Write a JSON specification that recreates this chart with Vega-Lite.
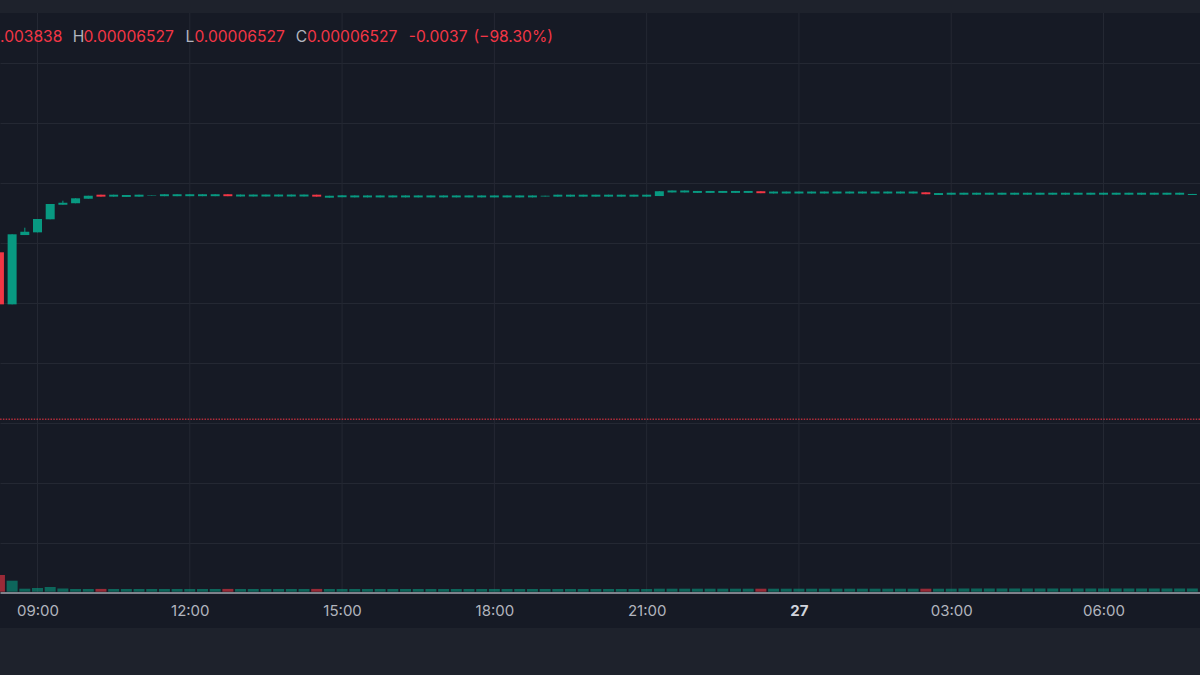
{
  "$schema": "https://vega.github.io/schema/vega-lite/v6.json",
  "width": 1200,
  "height": 615,
  "autosize": {"type": "none"},
  "padding": {"top": 13, "bottom": 47, "left": 0, "right": 0},
  "background": "#1e222c",
  "config": {"view": {"fill": "#161a25", "stroke": null}, "text": {"font": "Inter"}, "scale": {"continuousPadding": 0}},
  "datasets": {
    "candles": [
      {"t":"2024-06-26T08:15","o":0.00006138,"h":0.00006138,"l":0.00005665,"c":0.00005791,"v":16700},
      {"t":"2024-06-26T08:30","o":0.00005791,"h":0.00006258,"l":0.00005791,"c":0.00006258,"v":11000},
      {"t":"2024-06-26T08:45","o":0.00006253,"h":0.00006302,"l":0.00006253,"c":0.00006275,"v":3000},
      {"t":"2024-06-26T09:00","o":0.00006271,"h":0.00006360,"l":0.00006271,"c":0.00006360,"v":3700},
      {"t":"2024-06-26T09:15","o":0.00006358,"h":0.00006460,"l":0.00006358,"c":0.00006460,"v":4700},
      {"t":"2024-06-26T09:30","o":0.00006455,"h":0.00006482,"l":0.00006455,"c":0.00006469,"v":3300},
      {"t":"2024-06-26T09:45","o":0.00006465,"h":0.00006498,"l":0.00006465,"c":0.00006498,"v":2700},
      {"t":"2024-06-26T10:00","o":0.00006495,"h":0.00006515,"l":0.00006495,"c":0.00006515,"v":2700},
      {"t":"2024-06-26T10:15","o":0.00006522,"h":0.00006522,"l":0.00006509,"c":0.00006509,"v":2800},
      {"t":"2024-06-26T10:30","o":0.00006509,"h":0.00006522,"l":0.00006509,"c":0.00006522,"v":2700},
      {"t":"2024-06-26T10:45","o":0.00006507,"h":0.00006520,"l":0.00006507,"c":0.00006520,"v":2700},
      {"t":"2024-06-26T11:00","o":0.00006509,"h":0.00006522,"l":0.00006509,"c":0.00006522,"v":2700},
      {"t":"2024-06-26T11:15","o":0.00006514,"h":0.00006517,"l":0.00006514,"c":0.00006517,"v":2700},
      {"t":"2024-06-26T11:30","o":0.00006512,"h":0.00006525,"l":0.00006512,"c":0.00006525,"v":2700},
      {"t":"2024-06-26T11:45","o":0.00006512,"h":0.00006525,"l":0.00006512,"c":0.00006525,"v":2700},
      {"t":"2024-06-26T12:00","o":0.00006512,"h":0.00006525,"l":0.00006512,"c":0.00006525,"v":2700},
      {"t":"2024-06-26T12:15","o":0.00006512,"h":0.00006525,"l":0.00006512,"c":0.00006525,"v":2700},
      {"t":"2024-06-26T12:30","o":0.00006512,"h":0.00006525,"l":0.00006512,"c":0.00006525,"v":2700},
      {"t":"2024-06-26T12:45","o":0.00006525,"h":0.00006525,"l":0.00006512,"c":0.00006512,"v":2800},
      {"t":"2024-06-26T13:00","o":0.00006510,"h":0.00006523,"l":0.00006510,"c":0.00006523,"v":2700},
      {"t":"2024-06-26T13:15","o":0.00006510,"h":0.00006523,"l":0.00006510,"c":0.00006523,"v":2700},
      {"t":"2024-06-26T13:30","o":0.00006510,"h":0.00006523,"l":0.00006510,"c":0.00006523,"v":2700},
      {"t":"2024-06-26T13:45","o":0.00006510,"h":0.00006523,"l":0.00006510,"c":0.00006523,"v":2700},
      {"t":"2024-06-26T14:00","o":0.00006510,"h":0.00006523,"l":0.00006510,"c":0.00006523,"v":2700},
      {"t":"2024-06-26T14:15","o":0.00006510,"h":0.00006523,"l":0.00006510,"c":0.00006523,"v":2700},
      {"t":"2024-06-26T14:30","o":0.00006522,"h":0.00006522,"l":0.00006509,"c":0.00006509,"v":2800},
      {"t":"2024-06-26T14:45","o":0.00006502,"h":0.00006515,"l":0.00006502,"c":0.00006515,"v":2700},
      {"t":"2024-06-26T15:00","o":0.00006505,"h":0.00006518,"l":0.00006505,"c":0.00006518,"v":2700},
      {"t":"2024-06-26T15:15","o":0.00006504,"h":0.00006517,"l":0.00006504,"c":0.00006517,"v":2700},
      {"t":"2024-06-26T15:30","o":0.00006504,"h":0.00006517,"l":0.00006504,"c":0.00006517,"v":2700},
      {"t":"2024-06-26T15:45","o":0.00006504,"h":0.00006517,"l":0.00006504,"c":0.00006517,"v":2700},
      {"t":"2024-06-26T16:00","o":0.00006504,"h":0.00006517,"l":0.00006504,"c":0.00006517,"v":2700},
      {"t":"2024-06-26T16:15","o":0.00006504,"h":0.00006517,"l":0.00006504,"c":0.00006517,"v":2700},
      {"t":"2024-06-26T16:30","o":0.00006504,"h":0.00006517,"l":0.00006504,"c":0.00006517,"v":2700},
      {"t":"2024-06-26T16:45","o":0.00006504,"h":0.00006517,"l":0.00006504,"c":0.00006517,"v":2700},
      {"t":"2024-06-26T17:00","o":0.00006504,"h":0.00006517,"l":0.00006504,"c":0.00006517,"v":2700},
      {"t":"2024-06-26T17:15","o":0.00006504,"h":0.00006517,"l":0.00006504,"c":0.00006517,"v":2700},
      {"t":"2024-06-26T17:30","o":0.00006504,"h":0.00006517,"l":0.00006504,"c":0.00006517,"v":2700},
      {"t":"2024-06-26T17:45","o":0.00006504,"h":0.00006517,"l":0.00006504,"c":0.00006517,"v":2700},
      {"t":"2024-06-26T18:00","o":0.00006504,"h":0.00006517,"l":0.00006504,"c":0.00006517,"v":2700},
      {"t":"2024-06-26T18:15","o":0.00006504,"h":0.00006517,"l":0.00006504,"c":0.00006517,"v":2700},
      {"t":"2024-06-26T18:30","o":0.00006504,"h":0.00006517,"l":0.00006504,"c":0.00006517,"v":2700},
      {"t":"2024-06-26T18:45","o":0.00006504,"h":0.00006517,"l":0.00006504,"c":0.00006517,"v":2700},
      {"t":"2024-06-26T19:00","o":0.00006510,"h":0.00006515,"l":0.00006510,"c":0.00006515,"v":2700},
      {"t":"2024-06-26T19:15","o":0.00006509,"h":0.00006522,"l":0.00006509,"c":0.00006522,"v":2700},
      {"t":"2024-06-26T19:30","o":0.00006509,"h":0.00006522,"l":0.00006509,"c":0.00006522,"v":2700},
      {"t":"2024-06-26T19:45","o":0.00006509,"h":0.00006522,"l":0.00006509,"c":0.00006522,"v":2700},
      {"t":"2024-06-26T20:00","o":0.00006509,"h":0.00006522,"l":0.00006509,"c":0.00006522,"v":2700},
      {"t":"2024-06-26T20:15","o":0.00006509,"h":0.00006522,"l":0.00006509,"c":0.00006522,"v":2700},
      {"t":"2024-06-26T20:30","o":0.00006509,"h":0.00006522,"l":0.00006509,"c":0.00006522,"v":2700},
      {"t":"2024-06-26T20:45","o":0.00006509,"h":0.00006522,"l":0.00006509,"c":0.00006522,"v":2700},
      {"t":"2024-06-26T21:00","o":0.00006509,"h":0.00006522,"l":0.00006509,"c":0.00006522,"v":2700},
      {"t":"2024-06-26T21:15","o":0.00006513,"h":0.00006545,"l":0.00006513,"c":0.00006545,"v":3000},
      {"t":"2024-06-26T21:30","o":0.00006537,"h":0.00006550,"l":0.00006537,"c":0.00006550,"v":3000},
      {"t":"2024-06-26T21:45","o":0.00006537,"h":0.00006550,"l":0.00006537,"c":0.00006550,"v":3000},
      {"t":"2024-06-26T22:00","o":0.00006534,"h":0.00006547,"l":0.00006534,"c":0.00006547,"v":3000},
      {"t":"2024-06-26T22:15","o":0.00006534,"h":0.00006547,"l":0.00006534,"c":0.00006547,"v":3000},
      {"t":"2024-06-26T22:30","o":0.00006534,"h":0.00006547,"l":0.00006534,"c":0.00006547,"v":3000},
      {"t":"2024-06-26T22:45","o":0.00006534,"h":0.00006547,"l":0.00006534,"c":0.00006547,"v":3000},
      {"t":"2024-06-26T23:00","o":0.00006534,"h":0.00006547,"l":0.00006534,"c":0.00006547,"v":3000},
      {"t":"2024-06-26T23:15","o":0.00006545,"h":0.00006545,"l":0.00006532,"c":0.00006532,"v":3000},
      {"t":"2024-06-26T23:30","o":0.00006530,"h":0.00006543,"l":0.00006530,"c":0.00006543,"v":3000},
      {"t":"2024-06-26T23:45","o":0.00006530,"h":0.00006543,"l":0.00006530,"c":0.00006543,"v":3000},
      {"t":"2024-06-27T00:00","o":0.00006530,"h":0.00006543,"l":0.00006530,"c":0.00006543,"v":3000},
      {"t":"2024-06-27T00:15","o":0.00006530,"h":0.00006543,"l":0.00006530,"c":0.00006543,"v":3000},
      {"t":"2024-06-27T00:30","o":0.00006530,"h":0.00006543,"l":0.00006530,"c":0.00006543,"v":3000},
      {"t":"2024-06-27T00:45","o":0.00006530,"h":0.00006543,"l":0.00006530,"c":0.00006543,"v":3000},
      {"t":"2024-06-27T01:00","o":0.00006530,"h":0.00006543,"l":0.00006530,"c":0.00006543,"v":3000},
      {"t":"2024-06-27T01:15","o":0.00006530,"h":0.00006543,"l":0.00006530,"c":0.00006543,"v":3000},
      {"t":"2024-06-27T01:30","o":0.00006530,"h":0.00006543,"l":0.00006530,"c":0.00006543,"v":3000},
      {"t":"2024-06-27T01:45","o":0.00006530,"h":0.00006543,"l":0.00006530,"c":0.00006543,"v":3000},
      {"t":"2024-06-27T02:00","o":0.00006530,"h":0.00006543,"l":0.00006530,"c":0.00006543,"v":3000},
      {"t":"2024-06-27T02:15","o":0.00006530,"h":0.00006543,"l":0.00006530,"c":0.00006543,"v":3000},
      {"t":"2024-06-27T02:30","o":0.00006538,"h":0.00006538,"l":0.00006525,"c":0.00006525,"v":3000},
      {"t":"2024-06-27T02:45","o":0.00006520,"h":0.00006533,"l":0.00006520,"c":0.00006533,"v":3000},
      {"t":"2024-06-27T03:00","o":0.00006522,"h":0.00006535,"l":0.00006522,"c":0.00006535,"v":3000},
      {"t":"2024-06-27T03:15","o":0.00006522,"h":0.00006535,"l":0.00006522,"c":0.00006535,"v":3200},
      {"t":"2024-06-27T03:30","o":0.00006522,"h":0.00006535,"l":0.00006522,"c":0.00006535,"v":3200},
      {"t":"2024-06-27T03:45","o":0.00006522,"h":0.00006535,"l":0.00006522,"c":0.00006535,"v":3200},
      {"t":"2024-06-27T04:00","o":0.00006522,"h":0.00006535,"l":0.00006522,"c":0.00006535,"v":3200},
      {"t":"2024-06-27T04:15","o":0.00006522,"h":0.00006535,"l":0.00006522,"c":0.00006535,"v":3200},
      {"t":"2024-06-27T04:30","o":0.00006522,"h":0.00006535,"l":0.00006522,"c":0.00006535,"v":3200},
      {"t":"2024-06-27T04:45","o":0.00006522,"h":0.00006535,"l":0.00006522,"c":0.00006535,"v":3200},
      {"t":"2024-06-27T05:00","o":0.00006522,"h":0.00006535,"l":0.00006522,"c":0.00006535,"v":3200},
      {"t":"2024-06-27T05:15","o":0.00006522,"h":0.00006535,"l":0.00006522,"c":0.00006535,"v":3200},
      {"t":"2024-06-27T05:30","o":0.00006522,"h":0.00006535,"l":0.00006522,"c":0.00006535,"v":3200},
      {"t":"2024-06-27T05:45","o":0.00006522,"h":0.00006535,"l":0.00006522,"c":0.00006535,"v":3200},
      {"t":"2024-06-27T06:00","o":0.00006522,"h":0.00006535,"l":0.00006522,"c":0.00006535,"v":3200},
      {"t":"2024-06-27T06:15","o":0.00006522,"h":0.00006535,"l":0.00006522,"c":0.00006535,"v":3200},
      {"t":"2024-06-27T06:30","o":0.00006522,"h":0.00006535,"l":0.00006522,"c":0.00006535,"v":3200},
      {"t":"2024-06-27T06:45","o":0.00006522,"h":0.00006535,"l":0.00006522,"c":0.00006535,"v":3200},
      {"t":"2024-06-27T07:00","o":0.00006522,"h":0.00006535,"l":0.00006522,"c":0.00006535,"v":3200},
      {"t":"2024-06-27T07:15","o":0.00006522,"h":0.00006535,"l":0.00006522,"c":0.00006535,"v":3200},
      {"t":"2024-06-27T07:30","o":0.00006522,"h":0.00006535,"l":0.00006522,"c":0.00006535,"v":3200},
      {"t":"2024-06-27T07:45","o":0.00006520,"h":0.00006527,"l":0.00006520,"c":0.00006527,"v":3200}
    ],
    "grid": [
      {"t":"2024-06-26T09:00"},{"t":"2024-06-26T12:00"},{"t":"2024-06-26T15:00"},{"t":"2024-06-26T18:00"},
      {"t":"2024-06-26T21:00"},{"t":"2024-06-27T00:00"},{"t":"2024-06-27T03:00"},{"t":"2024-06-27T06:00"}
    ],
    "header": [
      {"s": "0.003838"},
      {"s": "H"},
      {"s": "0.00006527"},
      {"s": "L"},
      {"s": "C"},
      {"s": "-0.0037"},
      {"s": "(−98.30%)"}
    ]
  },
  "layer": [
    {
      "data": {"name": "grid"},
      "mark": {"type": "rule", "color": "#242833", "strokeWidth": 1},
      "encoding": {
        "x": {"field": "t", "type": "temporal", "scale": {"domain": [{"year":2024,"month":6,"date":26,"hours":8,"minutes":15,"seconds":40},{"year":2024,"month":6,"date":27,"hours":7,"minutes":54,"seconds":3}], "nice": false, "padding": 0},
          "axis": {"orient": "bottom", "offset": -35.5, "grid": false, "ticks": false, "tickSize": 0, "domain": true, "domainColor": "#a3a6af", "domainWidth": 1.5, "labelFont": "Inter", "labelFontSize": 15, "labelPadding": 11, "labelOverlap": false, "labelFlush": false, "labelBound": false, "title": null,
            "labelColor": {"condition": {"test": "hours(datum.value) == 0", "value": "#d1d4dc"}, "value": "#b2b5be"},
            "labelFontWeight": {"condition": {"test": "hours(datum.value) == 0", "value": "bold"}, "value": "normal"},
            "labelExpr": "hours(datum.value) == 0 ? timeFormat(datum.value, '%d') : timeFormat(datum.value, '%H:%M')",
            "values": [{"year":2024,"month":6,"date":26,"hours":9},{"year":2024,"month":6,"date":26,"hours":12},{"year":2024,"month":6,"date":26,"hours":15},{"year":2024,"month":6,"date":26,"hours":18},{"year":2024,"month":6,"date":26,"hours":21},{"year":2024,"month":6,"date":27,"hours":0},{"year":2024,"month":6,"date":27,"hours":3},{"year":2024,"month":6,"date":27,"hours":6}]}},
        "y": {"datum": 0.000077333, "type": "quantitative", "scale": {"domain": [0.000036333, 0.000077333], "nice": false, "zero": false}, "axis": {"orient": "left", "labels": false, "ticks": false, "domain": false, "grid": true, "gridColor": "#242833", "gridWidth": 1, "values": [0.000042, 0.000046, 0.00005, 0.000054, 0.000058, 0.000062, 0.000066, 0.00007, 0.000074], "title": null}},
        "y2": {"datum": 0.0000387333}
      }
    },
    {
      "data": {"values": [{"p": 0.00005025}]},
      "mark": {"type": "rule", "color": "#f23645", "opacity": 0.7, "strokeWidth": 1.5, "strokeDash": [1.5, 1.3]},
      "encoding": {
        "y": {"field": "p", "type": "quantitative", "scale": {"domain": [0.000036333, 0.000077333], "nice": false, "zero": false}, "axis": null}
      }
    },
    {
      "data": {"name": "candles"},
      "mark": {"type": "rule", "strokeWidth": 1},
      "encoding": {
        "x": {"field": "t", "type": "temporal", "scale": {"domain": [{"year":2024,"month":6,"date":26,"hours":8,"minutes":15,"seconds":40},{"year":2024,"month":6,"date":27,"hours":7,"minutes":54,"seconds":3}], "nice": false, "padding": 0}},
        "y": {"field": "l", "type": "quantitative", "scale": {"domain": [0.000036333, 0.000077333], "nice": false, "zero": false}, "axis": null},
        "y2": {"field": "h"},
        "color": {"condition": {"test": "datum.c >= datum.o", "value": "#089981"}, "value": "#f23645"}
      }
    },
    {
      "data": {"name": "candles"},
      "mark": {"type": "bar", "size": 9},
      "encoding": {
        "x": {"field": "t", "type": "temporal", "scale": {"domain": [{"year":2024,"month":6,"date":26,"hours":8,"minutes":15,"seconds":40},{"year":2024,"month":6,"date":27,"hours":7,"minutes":54,"seconds":3}], "nice": false, "padding": 0}},
        "y": {"field": "o", "type": "quantitative", "scale": {"domain": [0.000036333, 0.000077333], "nice": false, "zero": false}, "axis": null},
        "y2": {"field": "c"},
        "color": {"condition": {"test": "datum.c >= datum.o", "value": "#089981"}, "value": "#f23645"}
      }
    },
    {
      "data": {"name": "candles"},
      "mark": {"type": "bar", "size": 11, "opacity": 0.6},
      "encoding": {
        "x": {"field": "t", "type": "temporal", "scale": {"domain": [{"year":2024,"month":6,"date":26,"hours":8,"minutes":15,"seconds":40},{"year":2024,"month":6,"date":27,"hours":7,"minutes":54,"seconds":3}], "nice": false, "padding": 0}},
        "y": {"field": "v", "type": "quantitative", "scale": {"domain": [-36300, 578700], "nice": false, "zero": false}, "axis": null},
        "y2": {"datum": 0},
        "color": {"condition": {"test": "datum.c >= datum.o", "value": "#089981"}, "value": "#f23645"}
      }
    },
    {
      "data": {"name": "header"},
      "transform": [{"filter": "datum.s == '0.003838'"}],
      "mark": {"type": "text", "align": "right", "baseline": "middle", "fontSize": 15.6, "color": "#f23645"},
      "encoding": {
        "x": {"datum": {"year":2024,"month":6,"date":26,"hours":9,"minutes":29,"seconds":25}, "type": "temporal", "scale": {"domain": [{"year":2024,"month":6,"date":26,"hours":8,"minutes":15,"seconds":40},{"year":2024,"month":6,"date":27,"hours":7,"minutes":54,"seconds":3}], "nice": false, "padding": 0}},
        "y": {"datum": 0.00007573, "type": "quantitative", "scale": {"domain": [0.000036333, 0.000077333], "nice": false, "zero": false}, "axis": null},
        "text": {"field": "s"}
      }
    },
    {
      "data": {"name": "header"},
      "transform": [{"filter": "datum.s == 'H'"}],
      "mark": {"type": "text", "align": "left", "baseline": "middle", "fontSize": 15.6, "color": "#b2b5be"},
      "encoding": {
        "x": {"datum": {"year":2024,"month":6,"date":26,"hours":9,"minutes":41,"seconds":35}, "type": "temporal", "scale": {"domain": [{"year":2024,"month":6,"date":26,"hours":8,"minutes":15,"seconds":40},{"year":2024,"month":6,"date":27,"hours":7,"minutes":54,"seconds":3}], "nice": false, "padding": 0}},
        "y": {"datum": 0.00007573, "type": "quantitative", "scale": {"domain": [0.000036333, 0.000077333], "nice": false, "zero": false}, "axis": null},
        "text": {"field": "s"}
      }
    },
    {
      "data": {"name": "header"},
      "transform": [{"filter": "datum.s == '0.00006527'"}],
      "mark": {"type": "text", "align": "left", "baseline": "middle", "fontSize": 15.6, "color": "#f23645"},
      "encoding": {
        "x": {"datum": {"year":2024,"month":6,"date":26,"hours":9,"minutes":54,"seconds":14}, "type": "temporal", "scale": {"domain": [{"year":2024,"month":6,"date":26,"hours":8,"minutes":15,"seconds":40},{"year":2024,"month":6,"date":27,"hours":7,"minutes":54,"seconds":3}], "nice": false, "padding": 0}},
        "y": {"datum": 0.00007573, "type": "quantitative", "scale": {"domain": [0.000036333, 0.000077333], "nice": false, "zero": false}, "axis": null},
        "text": {"field": "s"}
      }
    },
    {
      "data": {"name": "header"},
      "transform": [{"filter": "datum.s == 'L'"}],
      "mark": {"type": "text", "align": "left", "baseline": "middle", "fontSize": 15.6, "color": "#b2b5be"},
      "encoding": {
        "x": {"datum": {"year":2024,"month":6,"date":26,"hours":11,"minutes":55,"seconds":2}, "type": "temporal", "scale": {"domain": [{"year":2024,"month":6,"date":26,"hours":8,"minutes":15,"seconds":40},{"year":2024,"month":6,"date":27,"hours":7,"minutes":54,"seconds":3}], "nice": false, "padding": 0}},
        "y": {"datum": 0.00007573, "type": "quantitative", "scale": {"domain": [0.000036333, 0.000077333], "nice": false, "zero": false}, "axis": null},
        "text": {"field": "s"}
      }
    },
    {
      "data": {"name": "header"},
      "transform": [{"filter": "datum.s == '0.00006527'"}],
      "mark": {"type": "text", "align": "left", "baseline": "middle", "fontSize": 15.6, "color": "#f23645"},
      "encoding": {
        "x": {"datum": {"year":2024,"month":6,"date":26,"hours":12,"minutes":5,"seconds":26}, "type": "temporal", "scale": {"domain": [{"year":2024,"month":6,"date":26,"hours":8,"minutes":15,"seconds":40},{"year":2024,"month":6,"date":27,"hours":7,"minutes":54,"seconds":3}], "nice": false, "padding": 0}},
        "y": {"datum": 0.00007573, "type": "quantitative", "scale": {"domain": [0.000036333, 0.000077333], "nice": false, "zero": false}, "axis": null},
        "text": {"field": "s"}
      }
    },
    {
      "data": {"name": "header"},
      "transform": [{"filter": "datum.s == 'C'"}],
      "mark": {"type": "text", "align": "left", "baseline": "middle", "fontSize": 15.6, "color": "#b2b5be"},
      "encoding": {
        "x": {"datum": {"year":2024,"month":6,"date":26,"hours":14,"minutes":5,"seconds":18}, "type": "temporal", "scale": {"domain": [{"year":2024,"month":6,"date":26,"hours":8,"minutes":15,"seconds":40},{"year":2024,"month":6,"date":27,"hours":7,"minutes":54,"seconds":3}], "nice": false, "padding": 0}},
        "y": {"datum": 0.00007573, "type": "quantitative", "scale": {"domain": [0.000036333, 0.000077333], "nice": false, "zero": false}, "axis": null},
        "text": {"field": "s"}
      }
    },
    {
      "data": {"name": "header"},
      "transform": [{"filter": "datum.s == '0.00006527'"}],
      "mark": {"type": "text", "align": "left", "baseline": "middle", "fontSize": 15.6, "color": "#f23645"},
      "encoding": {
        "x": {"datum": {"year":2024,"month":6,"date":26,"hours":14,"minutes":18,"seconds":25}, "type": "temporal", "scale": {"domain": [{"year":2024,"month":6,"date":26,"hours":8,"minutes":15,"seconds":40},{"year":2024,"month":6,"date":27,"hours":7,"minutes":54,"seconds":3}], "nice": false, "padding": 0}},
        "y": {"datum": 0.00007573, "type": "quantitative", "scale": {"domain": [0.000036333, 0.000077333], "nice": false, "zero": false}, "axis": null},
        "text": {"field": "s"}
      }
    },
    {
      "data": {"name": "header"},
      "transform": [{"filter": "datum.s == '-0.0037'"}],
      "mark": {"type": "text", "align": "left", "baseline": "middle", "fontSize": 15.6, "color": "#f23645"},
      "encoding": {
        "x": {"datum": {"year":2024,"month":6,"date":26,"hours":16,"minutes":18,"seconds":45}, "type": "temporal", "scale": {"domain": [{"year":2024,"month":6,"date":26,"hours":8,"minutes":15,"seconds":40},{"year":2024,"month":6,"date":27,"hours":7,"minutes":54,"seconds":3}], "nice": false, "padding": 0}},
        "y": {"datum": 0.00007573, "type": "quantitative", "scale": {"domain": [0.000036333, 0.000077333], "nice": false, "zero": false}, "axis": null},
        "text": {"field": "s"}
      }
    },
    {
      "data": {"name": "header"},
      "transform": [{"filter": "datum.s == '(−98.30%)'"}],
      "mark": {"type": "text", "align": "left", "baseline": "middle", "fontSize": 15.6, "color": "#f23645"},
      "encoding": {
        "x": {"datum": {"year":2024,"month":6,"date":26,"hours":17,"minutes":35,"seconds":13}, "type": "temporal", "scale": {"domain": [{"year":2024,"month":6,"date":26,"hours":8,"minutes":15,"seconds":40},{"year":2024,"month":6,"date":27,"hours":7,"minutes":54,"seconds":3}], "nice": false, "padding": 0}},
        "y": {"datum": 0.00007573, "type": "quantitative", "scale": {"domain": [0.000036333, 0.000077333], "nice": false, "zero": false}, "axis": null},
        "text": {"field": "s"}
      }
    }
  ],
  "resolve": {"scale": {"y": "independent"}}
}
